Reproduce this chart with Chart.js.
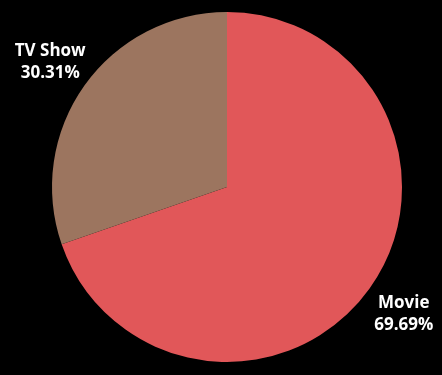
<!DOCTYPE html>
<html>
<head>
<meta charset="utf-8">
<script src="https://cdn.jsdelivr.net/npm/chart.js@4"></script>
<style>
  html, body { margin: 0; padding: 0; background: #000; }
  #wrap { width: 442px; height: 375px; }
</style>
</head>
<body>
<div id="wrap"><canvas id="typeChart"></canvas></div>
<script>
const categories = ['Movie', 'TV Show'];
const shares = [69.69, 30.31];
const sliceColors = ['#E15759', '#9C755F'];

// labels outside each slice: name on first line, percent below
const outsideLabels = {
  id: 'outsideLabels',
  afterDatasetsDraw(chart) {
    const { ctx } = chart;
    const meta = chart.getDatasetMeta(0);
    ctx.save();
    ctx.fillStyle = '#fff';
    ctx.font = 'bold 17px "Open Sans", sans-serif';
    ctx.textAlign = 'center';
    ctx.textBaseline = 'middle';
    meta.data.forEach((arc, i) => {
      const mid = (arc.startAngle + arc.endAngle) / 2;
      const r = arc.outerRadius + 42;
      const x = arc.x + Math.cos(mid) * r;
      const y = arc.y + Math.sin(mid) * r + 1;
      ctx.fillText(categories[i], x, y - 11);
      ctx.fillText(shares[i].toFixed(2) + '%', x, y + 11);
    });
    ctx.restore();
  }
};

new Chart(document.getElementById('typeChart').getContext('2d'), {
  type: 'pie',
  data: {
    labels: categories,
    datasets: [{
      data: shares,
      backgroundColor: sliceColors,
      borderWidth: 0
    }]
  },
  options: {
    responsive: true,
    maintainAspectRatio: false,
    animation: false,
    layout: { padding: { left: 52, right: 40, top: 12, bottom: 13 } },
    plugins: {
      legend: { display: false },
      tooltip: { enabled: false }
    }
  },
  plugins: [outsideLabels]
});
</script>
</body>
</html>
